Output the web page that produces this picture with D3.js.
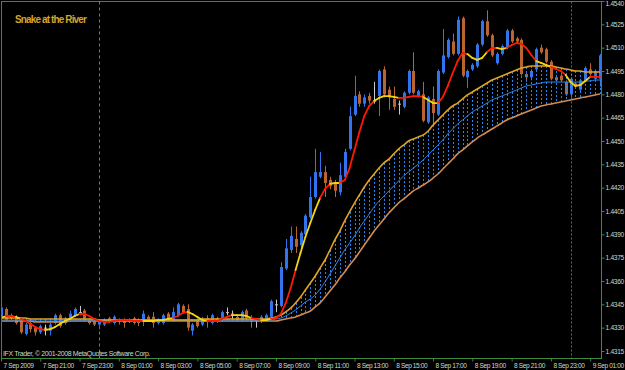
<!DOCTYPE html>
<html><head><meta charset="utf-8">
<script src="https://cdn.jsdelivr.net/npm/d3@7/dist/d3.min.js"></script>
<style>html,body{margin:0;padding:0;background:#000;}svg{display:block;}</style>
</head><body>
<svg id="chart" width="625" height="370"></svg>
<script>
// ---------- DATA (M15 bars) ----------
const chartTitle = "Snake at the River";
const copyrightText = "IFX Trader, \u00A9 2001-2008 MetaQuotes Software Corp.";
const firstBar = [2009, 8, 7, 19, 0]; // 7 Sep 2009 19:00, 15-minute bars
const barMinutes = 15;

const openP = [1.4336,1.4342,1.4338,1.4337,1.4335,1.4326,1.4333,1.4330,1.4327,1.4330,
1.4328,1.4333,1.4338,1.4333,1.4335,1.4338,1.4340,1.4341,1.4335,1.4334,
1.4332,1.4332,1.4336,1.4333,1.4335,1.4335,1.4335,1.4336,1.4334,1.4334,
1.4337,1.4337,1.4333,1.4333,1.4339,1.4335,1.4338,1.4344,1.4342,1.4328,
1.4335,1.4332,1.4336,1.4333,1.4336,1.4335,1.4340,1.4339,1.4337,1.4335,
1.4341,1.4336,1.4335,1.4334,1.4335,1.4337,1.4345,1.4344,1.4368,1.4380,
1.4387,1.4383,1.4390,1.4401,1.4414,1.4427,1.4430,1.4425,1.4423,1.4417,
1.4427,1.4445,1.4467,1.4480,1.4474,1.4479,1.4476,1.4479,1.4496,1.4483,
1.4477,1.4474,1.4472,1.4481,1.4495,1.4479,1.4480,1.4462,1.4477,1.4467,
1.4494,1.4504,1.4514,1.4506,1.4529,1.4491,1.4496,1.4498,1.4512,1.4527,
1.4518,1.4500,1.4506,1.4510,1.4521,1.4516,1.4515,1.4493,1.4491,1.4496,
1.4510,1.4509,1.4501,1.4491,1.4492,1.4488,1.4480,1.4487,1.4483,1.4489,
1.4496,1.4490,1.4490];
const highP = [1.4347,1.4343,1.4339,1.4338,1.4336,1.4333,1.4334,1.4331,1.4332,1.4332,
1.4333,1.4339,1.4339,1.4337,1.4341,1.4343,1.4344,1.4342,1.4336,1.4335,
1.4335,1.4336,1.4337,1.4338,1.4336,1.4336,1.4336,1.4337,1.4336,1.4341,
1.4338,1.4340,1.4336,1.4339,1.4340,1.4343,1.4346,1.4345,1.4345,1.4333,
1.4336,1.4337,1.4338,1.4339,1.4337,1.4341,1.4343,1.4341,1.4338,1.4341,
1.4342,1.4338,1.4336,1.4338,1.4339,1.4348,1.4348,1.4372,1.4387,1.4395,
1.4395,1.4392,1.4403,1.4427,1.4445,1.4443,1.4434,1.4427,1.4425,1.4436,
1.4445,1.4472,1.4492,1.4482,1.4480,1.4481,1.4488,1.4496,1.4498,1.4485,
1.4485,1.4476,1.4482,1.4496,1.4507,1.4483,1.4488,1.4479,1.4485,1.4496,
1.4522,1.4516,1.4519,1.4530,1.4530,1.4496,1.4500,1.4513,1.4528,1.4534,
1.4519,1.4507,1.4512,1.4522,1.4522,1.4517,1.4516,1.4494,1.4496,1.4510,
1.4512,1.4510,1.4502,1.4492,1.4494,1.4489,1.4491,1.4488,1.4490,1.4498,
1.4500,1.4496,1.4506];
const lowP = [1.4335,1.4334,1.4335,1.4332,1.4326,1.4325,1.4327,1.4325,1.4326,1.4325,
1.4325,1.4332,1.4330,1.4332,1.4334,1.4337,1.4338,1.4334,1.4332,1.4331,
1.4329,1.4331,1.4333,1.4332,1.4332,1.4330,1.4333,1.4332,1.4331,1.4331,
1.4334,1.4330,1.4332,1.4332,1.4334,1.4334,1.4337,1.4339,1.4328,1.4325,
1.4330,1.4331,1.4330,1.4332,1.4333,1.4334,1.4338,1.4335,1.4334,1.4334,
1.4335,1.4330,1.4330,1.4333,1.4334,1.4336,1.4340,1.4343,1.4367,1.4378,
1.4378,1.4381,1.4389,1.4400,1.4413,1.4426,1.4414,1.4419,1.4414,1.4415,
1.4426,1.4444,1.4466,1.4472,1.4472,1.4474,1.4474,1.4466,1.4478,1.4470,
1.4470,1.4467,1.4471,1.4480,1.4480,1.4478,1.4462,1.4461,1.4460,1.4466,
1.4493,1.4503,1.4505,1.4505,1.4491,1.4484,1.4495,1.4497,1.4511,1.4517,
1.4504,1.4499,1.4505,1.4509,1.4513,1.4513,1.4492,1.4488,1.4489,1.4495,
1.4506,1.4500,1.4489,1.4488,1.4488,1.4479,1.4478,1.4484,1.4482,1.4488,
1.4492,1.4489,1.4485];
const closeP = [1.4343,1.4335,1.4336,1.4333,1.4327,1.4332,1.4329,1.4327,1.4331,1.4330,
1.4332,1.4338,1.4331,1.4336,1.4339,1.4342,1.4340,1.4335,1.4333,1.4332,
1.4334,1.4335,1.4334,1.4337,1.4334,1.4333,1.4334,1.4333,1.4333,1.4339,
1.4335,1.4333,1.4335,1.4338,1.4335,1.4340,1.4345,1.4340,1.4330,1.4332,
1.4331,1.4336,1.4334,1.4338,1.4334,1.4340,1.4340,1.4339,1.4335,1.4340,
1.4336,1.4334,1.4335,1.4337,1.4338,1.4347,1.4345,1.4369,1.4381,1.4389,
1.4382,1.4391,1.4402,1.4414,1.4430,1.4430,1.4423,1.4421,1.4418,1.4428,
1.4443,1.4466,1.4479,1.4474,1.4478,1.4476,1.4476,1.4495,1.4480,1.4478,
1.4472,1.4474,1.4481,1.4495,1.4481,1.4482,1.4463,1.4478,1.4468,1.4495,
1.4505,1.4515,1.4506,1.4528,1.4492,1.4495,1.4499,1.4512,1.4527,1.4518,
1.4505,1.4506,1.4511,1.4521,1.4514,1.4514,1.4493,1.4491,1.4495,1.4509,
1.4507,1.4501,1.4490,1.4489,1.4489,1.4480,1.4490,1.4485,1.4489,1.4497,
1.4493,1.4495,1.4505];

// Snake line and its colour (1 = red, 0 = yellow) per bar
const snakeLine = [1.43362,1.43375,1.43375,1.43369,1.43356,1.43343,1.43324,1.43304,1.43291,1.43285,
1.43291,1.43304,1.43324,1.43343,1.43356,1.43375,1.43388,1.43388,1.43375,1.43356,
1.43343,1.43337,1.43337,1.43343,1.43349,1.43349,1.43349,1.43343,1.43343,1.43343,
1.43343,1.43343,1.43349,1.43349,1.43356,1.43362,1.43375,1.43394,1.43401,1.43388,
1.43369,1.43349,1.43343,1.43343,1.43343,1.43356,1.43369,1.43381,1.43381,1.43381,
1.43375,1.43362,1.43356,1.43349,1.43349,1.43356,1.43362,1.43388,1.43459,1.43555,
1.43671,1.43780,1.43883,1.43973,1.44057,1.44134,1.44192,1.44224,1.44230,1.44230,
1.44249,1.44326,1.44442,1.44558,1.44661,1.44725,1.44757,1.44777,1.44789,1.44789,
1.44783,1.44777,1.44777,1.44783,1.44789,1.44789,1.44783,1.44764,1.44744,1.44744,
1.44783,1.44854,1.44937,1.45014,1.45066,1.45059,1.45034,1.45021,1.45034,1.45072,
1.45098,1.45098,1.45091,1.45098,1.45117,1.45130,1.45124,1.45098,1.45053,1.45014,
1.45002,1.44989,1.44976,1.44963,1.44950,1.44925,1.44879,1.44854,1.44860,1.44886,
1.44912,1.44912,1.44912];
const snakeRed = [0,0,1,1,0,1,1,1,1,1, 0,0,0,0,0,0,0,1,1,1, 1,1,1,1,1,1,1,1,1,1,
0,0,0,0,0,0,1,1,1,0, 0,0,0,1,1,1,1,1,0,0, 0,0,1,1,0,0,1,1,1,1,
1,0,0,0,0,0,1,1,0,0, 1,1,1,1,1,1,1,0,0,0, 0,0,1,1,1,1,1,0,0,0,
1,1,1,1,1,1,0,0,0,0, 1,1,0,0,1,1,1,1,1,1, 0,0,0,1,1,1,0,0,0,0, 0,1,1];

// River: upper, middle and lower lines per bar
const riverUpper = [1.43362,1.43362,1.43362,1.43362,1.43362,1.43362,1.43356,1.43356,1.43356,1.43356,
1.43356,1.43356,1.43356,1.43356,1.43356,1.43356,1.43356,1.43356,1.43356,1.43356,
1.43349,1.43349,1.43349,1.43349,1.43349,1.43349,1.43349,1.43349,1.43349,1.43349,
1.43349,1.43349,1.43349,1.43349,1.43349,1.43349,1.43349,1.43349,1.43349,1.43349,
1.43349,1.43356,1.43356,1.43356,1.43356,1.43356,1.43356,1.43356,1.43356,1.43356,
1.43356,1.43356,1.43356,1.43356,1.43356,1.43362,1.43369,1.43381,1.43401,1.43426,
1.43459,1.43497,1.43542,1.43587,1.43632,1.43684,1.43735,1.43799,1.43864,1.43921,
1.43986,1.44044,1.44101,1.44153,1.44204,1.44249,1.44288,1.44326,1.44359,1.44384,
1.44417,1.44449,1.44474,1.44500,1.44513,1.44526,1.44539,1.44564,1.44603,1.44635,
1.44667,1.44699,1.44725,1.44744,1.44770,1.44796,1.44815,1.44834,1.44854,1.44873,
1.44892,1.44905,1.44918,1.44931,1.44944,1.44957,1.44969,1.44976,1.44982,1.44982,
1.44982,1.44982,1.44982,1.44976,1.44969,1.44963,1.44957,1.44950,1.44950,1.44944,
1.44944,1.44944,1.44944];
const riverMiddle = [1.43349,1.43349,1.43349,1.43349,1.43349,1.43349,1.43349,1.43343,1.43343,1.43343,
1.43343,1.43343,1.43343,1.43349,1.43349,1.43349,1.43349,1.43349,1.43349,1.43349,
1.43349,1.43349,1.43349,1.43349,1.43349,1.43349,1.43349,1.43349,1.43349,1.43349,
1.43349,1.43349,1.43349,1.43349,1.43349,1.43349,1.43349,1.43349,1.43349,1.43349,
1.43349,1.43349,1.43349,1.43349,1.43349,1.43349,1.43349,1.43349,1.43349,1.43349,
1.43349,1.43349,1.43349,1.43349,1.43349,1.43349,1.43356,1.43362,1.43375,1.43394,
1.43414,1.43439,1.43465,1.43484,1.43510,1.43549,1.43594,1.43645,1.43696,1.43748,
1.43799,1.43844,1.43889,1.43941,1.43986,1.44031,1.44076,1.44114,1.44146,1.44179,
1.44211,1.44243,1.44275,1.44301,1.44326,1.44352,1.44378,1.44410,1.44442,1.44474,
1.44507,1.44545,1.44577,1.44609,1.44635,1.44661,1.44687,1.44706,1.44725,1.44744,
1.44764,1.44777,1.44789,1.44802,1.44815,1.44828,1.44841,1.44854,1.44860,1.44867,
1.44873,1.44879,1.44879,1.44879,1.44879,1.44879,1.44879,1.44879,1.44879,1.44886,
1.44886,1.44892,1.44892];
const riverLower = [1.43343,1.43343,1.43343,1.43343,1.43343,1.43343,1.43343,1.43337,1.43337,1.43337,
1.43337,1.43337,1.43337,1.43337,1.43343,1.43343,1.43343,1.43343,1.43343,1.43343,
1.43343,1.43343,1.43343,1.43343,1.43343,1.43343,1.43343,1.43343,1.43343,1.43343,
1.43343,1.43343,1.43343,1.43343,1.43343,1.43343,1.43343,1.43343,1.43343,1.43343,
1.43343,1.43343,1.43343,1.43343,1.43343,1.43343,1.43343,1.43343,1.43343,1.43343,
1.43343,1.43343,1.43343,1.43343,1.43343,1.43343,1.43343,1.43349,1.43356,1.43362,
1.43369,1.43381,1.43394,1.43407,1.43433,1.43459,1.43497,1.43536,1.43574,1.43619,
1.43658,1.43703,1.43741,1.43786,1.43831,1.43876,1.43921,1.43960,1.43999,1.44037,
1.44070,1.44102,1.44127,1.44153,1.44179,1.44198,1.44217,1.44237,1.44262,1.44288,
1.44320,1.44352,1.44384,1.44417,1.44442,1.44468,1.44494,1.44519,1.44539,1.44558,
1.44577,1.44597,1.44616,1.44635,1.44648,1.44661,1.44674,1.44687,1.44699,1.44712,
1.44725,1.44732,1.44738,1.44744,1.44751,1.44757,1.44764,1.44770,1.44777,1.44783,
1.44789,1.44796,1.44802];

const priceTicks = [1.4315,1.4330,1.4345,1.4360,1.4375,1.4390,1.4405,1.4420,1.4435,1.4450,1.4465,1.4480,1.4495,1.4510,1.4525,1.4540];
const timeTickLabels = ["7 Sep 2009","7 Sep 21:00","7 Sep 23:00","8 Sep 01:00","8 Sep 03:00","8 Sep 05:00","8 Sep 07:00","8 Sep 09:00","8 Sep 11:00","8 Sep 13:00","8 Sep 15:00","8 Sep 17:00","8 Sep 19:00","8 Sep 21:00","8 Sep 23:00","9 Sep 01:00"];
const tickStepHours = 2;
const separatorDays = [[2009, 8, 8], [2009, 8, 9]];

// ---------- RENDER ----------
const W = 625, H = 370;
const plot = {left: 1.5, top: 1.5, right: 601.5, bottom: 358.5};
const C = {
  frame: "#3c8c3c", sepL: "#2fa82f", sepR: "#4a7a3a", text: "#c8dcc8",
  up: "#3274ee", down: "#b8652f", doji: "#c8c8c8",
  upper: "#e0a424", middle: "#2a86f0", lower: "#d08c52", hatch: "#2a86f0",
  red: "#ff1a00", yellow: "#f2d410", title: "#d4a428"
};
const FONT = "Liberation Sans, Arial, sans-serif";

// fit a text to a target width with letter-spacing (keeps real layout width)
function fitWidth(node, target) {
  node.setAttribute("letter-spacing", 0);
  const w = node.getComputedTextLength();
  const n = node.textContent.length;
  node.setAttribute("letter-spacing", ((target - w) / n).toFixed(3));
}

const t0 = new Date(firstBar[0], firstBar[1], firstBar[2], firstBar[3], firstBar[4]);
const n = openP.length;
const times = d3.range(n).map(i => d3.timeMinute.offset(t0, i * barMinutes));
const bars = times.map((t, i) => ({t, o: openP[i], h: highP[i], l: lowP[i], c: closeP[i],
  s: snakeLine[i], red: snakeRed[i], up: riverUpper[i], mid: riverMiddle[i], lo: riverLower[i]}));

const x = d3.scaleTime().domain([t0, times[n - 1]]).range([1, 600]);
const y = d3.scaleLinear().domain([1.4315, 1.4540]).range([351, 1]);

const svg = d3.select("#chart");
svg.append("rect").attr("width", W).attr("height", H).attr("fill", "#000");

svg.append("defs").append("clipPath").attr("id", "clip")
  .append("rect").attr("x", plot.left).attr("y", plot.top)
  .attr("width", plot.right - plot.left).attr("height", plot.bottom - plot.top);

const g = svg.append("g").attr("clip-path", "url(#clip)");

// period separators
separatorDays.forEach((d, i) => {
  const sx = Math.round(x(new Date(d[0], d[1], d[2], 0, 0))) + 0.5;
  g.append("line").attr("x1", sx).attr("x2", sx).attr("y1", plot.top).attr("y2", plot.bottom)
    .attr("stroke", i === 0 ? C.sepL : C.sepR).attr("stroke-width", 1)
    .attr("stroke-dasharray", i === 0 ? "3,3" : "2,2");
});

// candles
const cx = d => Math.round(x(d.t));
const colorOf = d => d.c > d.o ? C.up : d.c < d.o ? C.down : C.doji;
const candle = g.append("g");
candle.selectAll("line.wick").data(bars).join("line").attr("class", "wick")
  .attr("x1", d => cx(d) + 0.5).attr("x2", d => cx(d) + 0.5)
  .attr("y1", d => y(d.h)).attr("y2", d => y(d.l))
  .attr("stroke", colorOf).attr("stroke-width", 1);
candle.selectAll("rect.body").data(bars).join("rect").attr("class", "body")
  .attr("x", d => cx(d) - 1).attr("width", 3)
  .attr("y", d => y(Math.max(d.o, d.c)))
  .attr("height", d => Math.max(1, Math.abs(y(d.o) - y(d.c))))
  .attr("fill", colorOf);

// river hatch (dotted verticals between upper and lower lines)
g.append("g").selectAll("line").data(bars).join("line")
  .attr("x1", d => cx(d) + 0.5).attr("x2", d => cx(d) + 0.5)
  .attr("y1", d => y(d.up)).attr("y2", d => y(d.lo))
  .attr("stroke", C.hatch).attr("stroke-width", 1).attr("stroke-dasharray", "2,2");

const lineGen = key => d3.line().x(d => x(d.t)).y(d => y(d[key])).curve(d3.curveMonotoneX);
g.append("path").datum(bars).attr("d", lineGen("lo")).attr("fill", "none").attr("stroke", C.lower).attr("stroke-width", 1.6);
g.append("path").datum(bars).attr("d", lineGen("mid")).attr("fill", "none").attr("stroke", C.middle).attr("stroke-width", 1);
g.append("path").datum(bars).attr("d", lineGen("up")).attr("fill", "none").attr("stroke", C.upper).attr("stroke-width", 1.6);

// snake, coloured per segment
const segs = d3.range(1, n).map(i => ({a: bars[i - 1], b: bars[i], red: bars[i].red}));
g.append("g").selectAll("line").data(segs).join("line")
  .attr("x1", d => x(d.a.t)).attr("y1", d => y(d.a.s))
  .attr("x2", d => x(d.b.t)).attr("y2", d => y(d.b.s))
  .attr("stroke", d => d.red ? C.red : C.yellow).attr("stroke-width", 1.8)
  .attr("stroke-linecap", "round");

// frame
svg.append("rect").attr("x", plot.left).attr("y", plot.top)
  .attr("width", plot.right - plot.left).attr("height", plot.bottom - plot.top)
  .attr("fill", "none").attr("stroke", C.frame).attr("stroke-width", 1);

// axes
const timeTicks = timeTickLabels.map((_, i) => d3.timeHour.offset(t0, i * tickStepHours));
const xAxis = d3.axisBottom(x).tickValues(timeTicks).tickFormat((d, i) => timeTickLabels[i]).tickSize(3).tickSizeOuter(0);
const xa = svg.append("g").attr("transform", `translate(0,${plot.bottom})`).call(xAxis);
xa.select(".domain").remove();
xa.selectAll(".tick line").attr("stroke", C.frame);
xa.selectAll(".tick text").attr("fill", C.text).attr("text-anchor", "start").attr("x", 2).attr("dy", 0).attr("y", 9.5)
  .style("font-family", FONT).style("font-size", "6.6px")
  .each(function(d, i) { fitWidth(this, i === 0 ? 30 : 31); });

const yAxis = d3.axisRight(y).tickValues(priceTicks).tickFormat(d3.format(".4f")).tickSize(3).tickSizeOuter(0);
const ya = svg.append("g").attr("transform", `translate(${plot.right},0)`).call(yAxis);
ya.select(".domain").remove();
ya.selectAll(".tick line").attr("stroke", C.frame);
ya.selectAll(".tick text").attr("fill", C.text).attr("x", 4)
  .attr("dy", d => d === priceTicks[priceTicks.length - 1] ? "0.75em" : "0.32em")
  .style("font-family", FONT).style("font-size", "6.6px")
  .each(function() { fitWidth(this, 18.5); });

// texts
svg.append("text").attr("x", 15).attr("y", 23).text(chartTitle)
  .attr("fill", C.title).style("font-family", FONT)
  .style("font-size", "10px").style("font-weight", "bold")
  .each(function() { fitWidth(this, 71); });
svg.append("text").attr("x", 3).attr("y", 356).text(copyrightText)
  .attr("fill", C.text).style("font-family", FONT).style("font-size", "7px")
  .each(function() { fitWidth(this, 147); });
</script>
</body></html>
